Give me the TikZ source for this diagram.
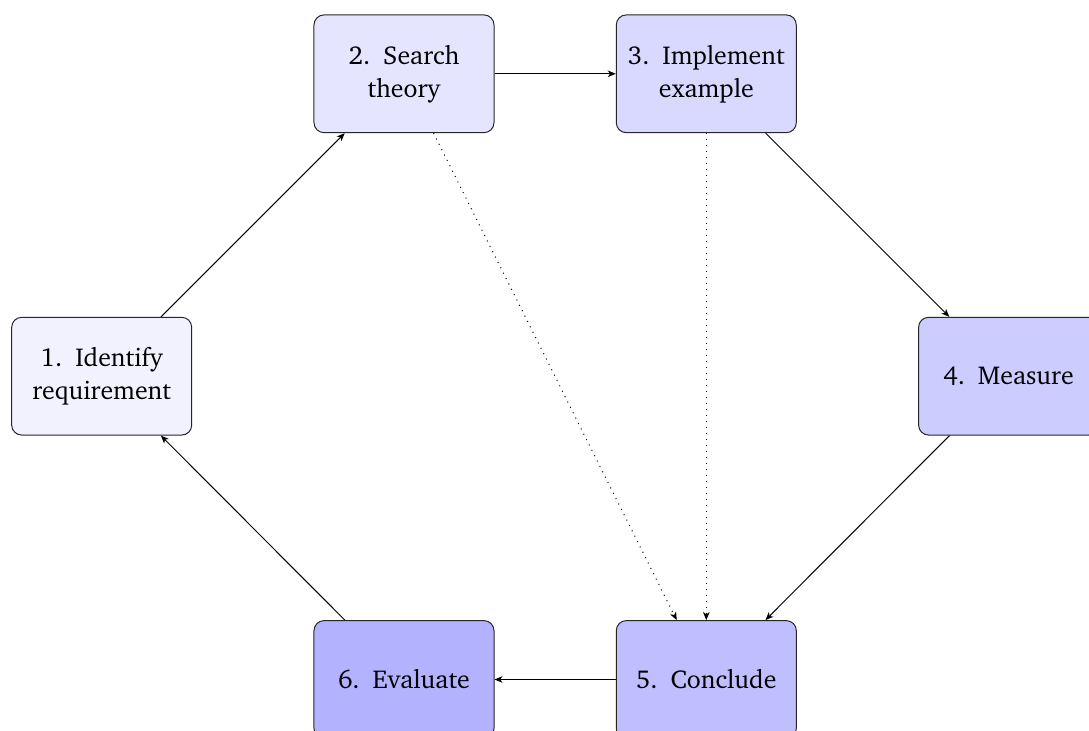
\documentclass[tikz,border=0pt]{standalone}
\usepackage[T1]{fontenc}
\usepackage{charter}
\usetikzlibrary{arrows.meta}
\newcommand{\numgap}{\hspace{0.5em}}
\begin{document}
\begin{tikzpicture}[x=0.4pt,y=-0.4pt,
  stepbox/.style={draw=black!85, line width=0.4pt, rounded corners=4pt,
    minimum width=72pt, minimum height=47.1pt, align=center, inner sep=2pt,
    font=\fontsize{10.35}{13.3}\selectfont},
  conn/.style={draw=black, line width=0.4pt, -{Stealth[length=3.2pt,width=2.6pt,inset=0.9pt]}},
  dotconn/.style={conn, dotted}]
\useasboundingbox (0,0) rectangle (1089,731);
\node[stepbox, fill=blue!5]  (n1) at (101.7,376.2) {1.\numgap Identify\\requirement};
\node[stepbox, fill=blue!10] (n2) at (404,73.8) {2.\numgap Search\\theory};
\node[stepbox, fill=blue!15] (n3) at (706.3,73.8) {3.\numgap Implement\\example};
\node[stepbox, fill=blue!20] (n4) at (1008.6,376.2) {4.\numgap Measure};
\node[stepbox, fill=blue!25] (n5) at (706.3,679.5) {5.\numgap Conclude};
\node[stepbox, fill=blue!30] (n6) at (404,679.5) {6.\numgap Evaluate};
\draw[conn] (n1) -- (n2);
\draw[conn] (n2) -- (n3);
\draw[conn] (n3) -- (n4);
\draw[conn] (n4) -- (n5);
\draw[conn] (n5) -- (n6);
\draw[conn] (n6) -- (n1);
\draw[dotconn] (n2) -- (n5);
\draw[dotconn] (n3) -- (n5);
\end{tikzpicture}
\end{document}
